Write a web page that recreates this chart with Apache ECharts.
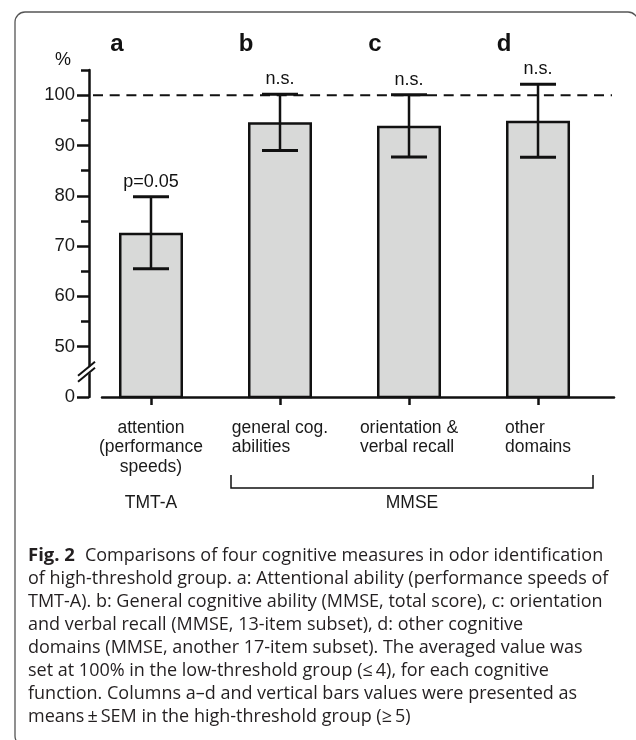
<!DOCTYPE html>
<html><head><meta charset="utf-8">
<script src="https://cdn.jsdelivr.net/npm/echarts@6/dist/echarts.min.js"></script>
<style>html,body{margin:0;padding:0;background:#fff}#c{width:636px;height:740px}</style>
</head><body><div id="c"></div><script>
// ---- data ----
const categories = ['attention\n(performance\nspeeds)', 'general cog.\nabilities', 'orientation &\nverbal recall', 'other\ndomains'];
const panelLetters = ['a', 'b', 'c', 'd'];
const means = [72.65, 94.6, 93.9, 94.9];
const sem = [7.15, 5.6, 6.2, 7.25];
const annotations = ['p=0.05', 'n.s.', 'n.s.', 'n.s.'];
const groupNames = ['TMT-A', 'MMSE'];
const groupFrom = [0, 1];
const groupTo = [0, 3];
const yMajorTicks = [40, 50, 60, 70, 80, 90, 100];      // 40 is drawn as "0" (broken axis)
const yTickLabels = ['0', '50', '60', '70', '80', '90', '100'];
const yMinorTicks = [55, 65, 75, 85, 95, 105];
const referenceLevel = 100;
const axisBreakAt = 45;
const captionLines = [
  'Comparisons of four cognitive measures in odor identification',
  'of high-threshold group. a: Attentional ability (performance speeds of',
  'TMT-A). b: General cognitive ability (MMSE, total score), c: orientation',
  'and verbal recall (MMSE, 13-item subset), d: other cognitive',
  'domains (MMSE, another 17-item subset). The averaged value was',
  'set at 100% in the low-threshold group (\u2264\u20094), for each cognitive',
  'function. Columns a\u2013d and vertical bars values were presented as',
  'means\u2009\u00b1\u2009SEM in the high-threshold group (\u2265\u20095)'
];

const FONT = '"Liberation Sans", Arial, sans-serif';
const INK = '#111';
const chart = echarts.init(document.getElementById('c'), null, {renderer: 'canvas'});

const catIdx = categories.map((_, i) => i);
const barData = means.map((m, i) => [i, m]);
const errData = means.map((m, i) => [i, m, sem[i]]);
const groupData = groupNames.map((_, i) => [groupFrom[i], groupTo[i]]);

const captionText = '{b|Fig. 2}  ' + captionLines.map(l => '{r|' + l + '}').join('\n');
const Y_OFFSET = 13;

chart.setOption({
  animation: false,
  backgroundColor: '#fff',
  title: {
    left: 28, top: 544, padding: 0,
    text: captionText,
    textStyle: {
      rich: {
        b: {fontFamily: '"Open Sans", sans-serif', fontWeight: 'bold', fontSize: 18.5, lineHeight: 23, color: '#231f20'},
        r: {fontFamily: '"Open Sans", sans-serif', fontWeight: 'normal', fontSize: 18, lineHeight: 23, color: '#231f20'}
      }
    }
  },
  graphic: [
    {type: 'rect', shape: {x: 15, y: 12, width: 623, height: 734, r: 10},
     style: {fill: 'none', stroke: '#555', lineWidth: 1.3}, silent: true},
    {type: 'text', left: 55, top: 51, style: {text: '%', font: '18px ' + FONT, fill: INK}}
  ],
  grid: {left: 102, right: 22, top: 70, bottom: 343, containLabel: false},
  xAxis: {
    type: 'value', min: -0.3798, max: 3.589,
    splitLine: {show: false},
    axisLine: {show: true, onZero: false, lineStyle: {color: INK, width: 2.5}},
    axisTick: {show: true, customValues: catIdx, length: 8, lineStyle: {color: INK, width: 2.5}},
    axisLabel: {
      show: true, customValues: catIdx, margin: 21,
      formatter: v => {
        const i = Math.round(v);
        const st = i === 0 ? 'c' : 'l';
        return categories[i].split('\n').map(t => '{' + st + '|' + t + '}').join('\n');
      },
      rich: {
        c: {align: 'center', fontFamily: FONT, fontSize: 17.5, lineHeight: 19.5, color: '#1a1a1a'},
        l: {align: 'left', fontFamily: FONT, fontSize: 17.5, lineHeight: 19.5, color: '#1a1a1a'}
      }
    }
  },
  yAxis: [
    {
      type: 'value', position: 'left', min: 40, max: 105, offset: Y_OFFSET,
      splitLine: {show: false},
      axisLine: {show: true, onZero: false, lineStyle: {color: INK, width: 2.5}},
      axisTick: {show: true, customValues: yMajorTicks, length: 12, lineStyle: {color: INK, width: 2.5}},
      axisLabel: {show: true, customValues: yMajorTicks, margin: 14,
        formatter: v => yTickLabels[yMajorTicks.indexOf(v)],
        fontFamily: FONT, fontSize: 18.5, color: '#1a1a1a'}
    },
    {
      type: 'value', position: 'left', min: 40, max: 105, offset: Y_OFFSET,
      splitLine: {show: false},
      axisLine: {show: false, onZero: false},
      axisTick: {show: true, customValues: yMinorTicks, length: 8, lineStyle: {color: INK, width: 2.5}},
      axisLabel: {show: false}
    }
  ],
  series: [
    {
      type: 'bar', yAxisIndex: 0, data: barData, barWidth: 64,
      itemStyle: {color: '#d8d9d8', borderColor: INK, borderWidth: 2.5},
      silent: true
    },
    {
      // dashed reference line at 100 %
      type: 'custom', yAxisIndex: 0, data: [[0, referenceLevel]], silent: true, clip: false, z: 1,
      renderItem: (params, api) => {
        const cs = params.coordSys;
        const y = api.coord([0, api.value(1)])[1];
        return {type: 'line', shape: {x1: cs.x - 9, y1: y, x2: cs.x + cs.width - 2, y2: y},
          style: {stroke: INK, lineWidth: 2, lineDash: [10, 6.7]}};
      }
    },
    {
      type: 'custom', yAxisIndex: 0, data: errData, silent: true, clip: false, z: 3,
      renderItem: (params, api) => {
        const idx = params.dataIndex;
        const i = api.value(0), m = api.value(1), s = api.value(2);
        const top = api.coord([i, m + s]), bot = api.coord([i, m - s]);
        const cx = top[0];
        const ls = {stroke: INK, lineWidth: 2.5};
        return {type: 'group', children: [
          {type: 'line', shape: {x1: cx, y1: top[1], x2: cx, y2: bot[1]}, style: ls},
          {type: 'line', shape: {x1: cx - 18, y1: top[1], x2: cx + 18, y2: top[1]}, style: {stroke: INK, lineWidth: 3}},
          {type: 'line', shape: {x1: cx - 18, y1: bot[1], x2: cx + 18, y2: bot[1]}, style: {stroke: INK, lineWidth: 3}},
          {type: 'text', style: {text: annotations[idx], x: cx, y: top[1] - 6, align: 'center', verticalAlign: 'bottom',
            font: '18px ' + FONT, fill: INK}},
          {type: 'text', style: {text: panelLetters[idx], x: cx - 34, y: 44, align: 'center', verticalAlign: 'middle',
            font: 'bold 24px ' + FONT, fill: INK}}
        ]};
      }
    },
    {
      type: 'custom', yAxisIndex: 0, data: [[0, axisBreakAt]], silent: true, clip: false, z: 5,
      renderItem: (params, api) => {
        const cs = params.coordSys;
        const ax = cs.x - Y_OFFSET;
        const y = api.coord([0, api.value(1)])[1];
        return {type: 'group', children: [
          {type: 'polygon', shape: {points: [[ax - 12, y + 6], [ax + 6, y - 9], [ax + 6, y - 3], [ax - 12, y + 12]]},
           style: {fill: '#fff'}},
          {type: 'line', shape: {x1: ax - 11, y1: y + 4, x2: ax + 6, y2: y - 10}, style: {stroke: INK, lineWidth: 2}},
          {type: 'line', shape: {x1: ax - 11, y1: y + 10, x2: ax + 6, y2: y - 4}, style: {stroke: INK, lineWidth: 2}}
        ]};
      }
    },
    {
      type: 'custom', yAxisIndex: 0, data: groupData, silent: true, clip: false,
      renderItem: (params, api) => {
        const idx = params.dataIndex;
        const cs = params.coordSys;
        const base = cs.y + cs.height;
        const a = api.coord([api.value(0), 50])[0], b = api.coord([api.value(1), 50])[0];
        const children = [];
        let cx = a;
        if (api.value(1) > api.value(0)) {
          const x1 = a - 49, x2 = b + 55, yT = base + 78, yB = base + 91;
          children.push({type: 'polyline', shape: {points: [[x1, yT], [x1, yB], [x2, yB], [x2, yT]]},
            style: {stroke: INK, lineWidth: 1.5, fill: null}});
          cx = (x1 + x2) / 2;
        }
        children.push({type: 'text', style: {text: groupNames[idx], x: cx, y: base + 106, align: 'center', verticalAlign: 'middle',
          font: '17.5px ' + FONT, fill: '#1a1a1a'}});
        return {type: 'group', children};
      }
    }
  ]
});
</script></body></html>
